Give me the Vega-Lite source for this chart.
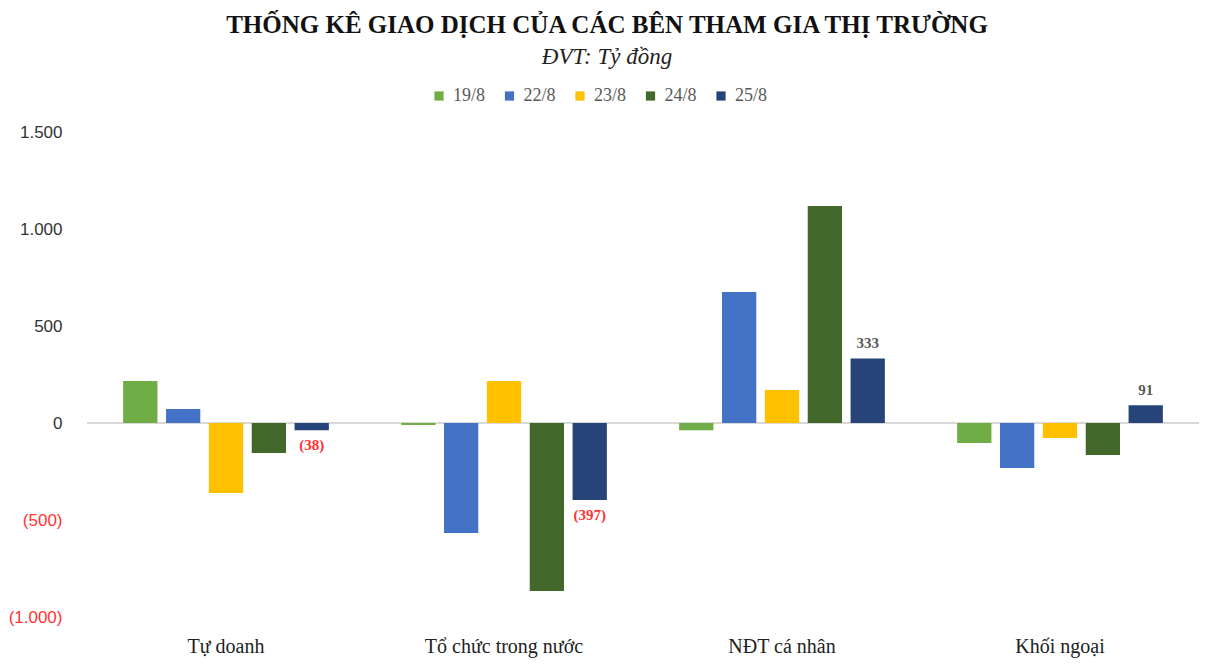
{
  "$schema": "https://vega.github.io/schema/vega-lite/v6.json",
  "autosize": "none",
  "width": 1112,
  "height": 485,
  "padding": {"left": 87, "top": 132, "right": 16, "bottom": 47},
  "background": "white",
  "title": {
    "text": "THỐNG KÊ GIAO DỊCH CỦA CÁC BÊN THAM GIA THỊ TRƯỜNG",
    "subtitle": "ĐVT: Tỷ đồng",
    "anchor": "middle",
    "frame": "group",
    "dx": -36,
    "offset": 18,
    "font": "Liberation Serif",
    "fontSize": 25,
    "fontWeight": "bold",
    "color": "#111111",
    "subtitleFont": "Liberation Serif",
    "subtitleFontSize": 23,
    "subtitleFontStyle": "italic",
    "subtitleColor": "#222222",
    "subtitlePadding": 8
  },
  "data": {
    "values": [
      {"group": "Tự doanh", "date": "19/8", "value": 216},
      {"group": "Tự doanh", "date": "22/8", "value": 72},
      {"group": "Tự doanh", "date": "23/8", "value": -361},
      {"group": "Tự doanh", "date": "24/8", "value": -155},
      {"group": "Tự doanh", "date": "25/8", "value": -38},
      {"group": "Tổ chức trong nước", "date": "19/8", "value": -10},
      {"group": "Tổ chức trong nước", "date": "22/8", "value": -567},
      {"group": "Tổ chức trong nước", "date": "23/8", "value": 216},
      {"group": "Tổ chức trong nước", "date": "24/8", "value": -866},
      {"group": "Tổ chức trong nước", "date": "25/8", "value": -397},
      {"group": "NĐT cá nhân", "date": "19/8", "value": -38},
      {"group": "NĐT cá nhân", "date": "22/8", "value": 675},
      {"group": "NĐT cá nhân", "date": "23/8", "value": 170},
      {"group": "NĐT cá nhân", "date": "24/8", "value": 1118},
      {"group": "NĐT cá nhân", "date": "25/8", "value": 333},
      {"group": "Khối ngoại", "date": "19/8", "value": -103},
      {"group": "Khối ngoại", "date": "22/8", "value": -232},
      {"group": "Khối ngoại", "date": "23/8", "value": -77},
      {"group": "Khối ngoại", "date": "24/8", "value": -165},
      {"group": "Khối ngoại", "date": "25/8", "value": 91}
    ]
  },
  "encoding": {
    "x": {
      "field": "group",
      "type": "nominal",
      "sort": ["Tự doanh", "Tổ chức trong nước", "NĐT cá nhân", "Khối ngoại"],
      "scale": {"paddingInner": 0.26, "paddingOuter": 0.13},
      "axis": {
        "title": null,
        "labelAngle": 0,
        "domain": false,
        "ticks": false,
        "labelPadding": 19,
        "labelFont": "Liberation Serif",
        "labelFontSize": 20,
        "labelColor": "#222222"
      }
    },
    "y": {
      "field": "value",
      "type": "quantitative",
      "scale": {"domain": [-1000, 1500], "nice": false},
      "axis": {
        "title": null,
        "values": [-1000, -500, 0, 500, 1000, 1500],
        "domain": false,
        "ticks": false,
        "grid": false,
        "labelPadding": 25,
        "labelFont": "Liberation Sans",
        "labelFontSize": 17,
        "labelExpr": "datum.value < 0 ? '(' + replace(format(-datum.value, ','), ',', '.') + ')' : replace(format(datum.value, ','), ',', '.')",
        "labelColor": {"condition": {"test": "datum.value < 0", "value": "#FF3333"}, "value": "#333333"}
      }
    },
    "xOffset": {
      "field": "date",
      "type": "nominal",
      "scale": {"domain": ["19/8", "22/8", "23/8", "24/8", "25/8"], "paddingInner": 0.2}
    }
  },
  "layer": [
    {
      "mark": {"type": "rule", "color": "#D9D9D9", "strokeWidth": 1.5},
      "encoding": {"y": {"datum": 0}, "x": null, "xOffset": null}
    },
    {
      "mark": {"type": "bar"},
      "encoding": {
        "color": {
          "field": "date",
          "type": "nominal",
          "scale": {
            "domain": ["19/8", "22/8", "23/8", "24/8", "25/8"],
            "range": ["#70AD47", "#4472C4", "#FFC000", "#43682B", "#264478"]
          },
          "legend": {
            "title": null,
            "orient": "none",
            "direction": "horizontal",
            "legendX": 343,
            "legendY": -45,
            "symbolType": "square",
            "symbolSize": 85,
            "symbolStrokeWidth": 0,
            "labelFont": "Liberation Serif",
            "labelFontSize": 18,
            "labelColor": "#595959",
            "labelOffset": 5,
            "columnPadding": 14.5
          }
        }
      }
    },
    {
      "transform": [{"filter": "datum.date == '25/8' && datum.value >= 0"}],
      "mark": {"type": "text", "baseline": "bottom", "dy": -7, "font": "Liberation Serif", "fontSize": 15, "fontWeight": "bold", "color": "#595959"},
      "encoding": {
        "text": {"field": "value", "type": "quantitative", "format": "(.0f"}
      }
    },
    {
      "transform": [{"filter": "datum.date == '25/8' && datum.value < 0"}],
      "mark": {"type": "text", "baseline": "top", "dy": 8, "font": "Liberation Serif", "fontSize": 15, "fontWeight": "bold", "color": "#FF3333"},
      "encoding": {
        "text": {"field": "value", "type": "quantitative", "format": "(.0f"}
      }
    }
  ],
  "config": {"view": {"stroke": null}}
}
